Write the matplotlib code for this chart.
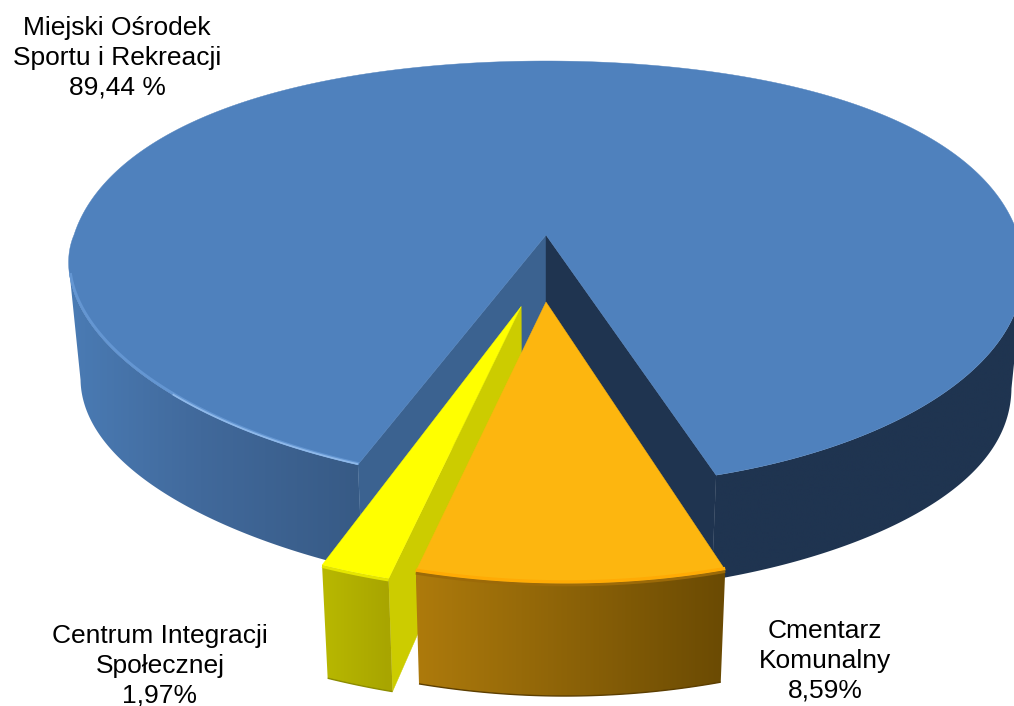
'''3D exploded pie of budget shares, drawn by hand since matplotlib has no perspective pie'''
import numpy as np
from matplotlib import pyplot as plt
from matplotlib.colors import to_rgb
from matplotlib.patches import Polygon

# data
names = ["Miejski Ośrodek\nSportu i Rekreacji", "Cmentarz\nKomunalny", "Centrum Integracji\nSpołecznej"]
shares = [89.44, 8.59, 1.97]
share_texts = ["89,44 %", "8,59%", "1,97%"]

# colours
top_colors = ["#4F81BD", "#FDB60F", "#FFFF00"]
inner_left_blue = "#3B6290"
inner_right_blue = "#1F3450"
inner_yellow = "#CCCC00"

# picture geometry
CX, CY = 546, 235
RX, RY = 472, 204
RY_BACK = 174
KX, KY = 0.15, 0.19
DEPTH = 85
TILT = 0.02
START = 18.0   # where the big slice starts, degrees from the viewer direction

layer = [1]


def next_z():
    layer[0] += 1
    return layer[0]


def project(u, v, lower=False):
    u = np.asarray(u, dtype=float)
    v = np.asarray(v, dtype=float)
    sx = 1 / (1 - KX * v)
    sy = 1 / (1 - KY * v)
    x = RX * u * sx
    # front half in perspective, back half a bit squarer
    back = np.abs(v)
    y = np.where(v >= 0, RY * v * sy, -RY_BACK * (back + 0.28 * back * (1 - back)))
    front = np.clip(v, 0, None)
    y = y + TILT * x * 1.3 * front / (front + 0.3)
    if lower:
        x = x * 0.975
        y = y + DEPTH * (sy + 0.35 * np.abs(u) ** 3)
    return CX + x, CY + y


def rim(a, b, piece=(0.0, 0.0, 1.0, 1.0), lower=False, step=0.5):
    u0, v0, ru, rv = piece
    n = max(int(abs(b - a) / step), 2)
    t = np.radians(np.linspace(a, b, n))
    return project(u0 + ru * np.sin(t), v0 + rv * np.cos(t), lower)


def side(ax, a, b, x_stops, colors, piece=(0.0, 0.0, 1.0, 1.0)):
    # outer wall, horizontal gradient clipped to its outline
    xt, yt = rim(a, b, piece)
    xb, yb = rim(a, b, piece, lower=True)
    px = np.r_[xt, xb[::-1]]
    py = np.r_[yt, yb[::-1]]
    xs = np.linspace(px.min(), px.max(), 300)
    rgb = np.array([to_rgb(c) for c in colors])
    grad = np.stack([np.interp(xs, x_stops, rgb[:, k]) for k in range(3)], axis=1)[None, :, :]
    im = ax.imshow(grad, extent=(px.min(), px.max(), py.max(), py.min()), aspect="auto",
                   interpolation="bilinear", zorder=next_z())
    clip = Polygon(np.c_[px, py], closed=True, transform=ax.transData)
    im.set_clip_path(clip)


def inner(ax, angle, color, piece=(0.0, 0.0, 1.0, 1.0)):
    u0, v0, ru, rv = piece
    t = np.radians(angle)
    ax1, ay1 = project(u0, v0)
    ax2, ay2 = project(u0, v0, lower=True)
    bx1, by1 = project(u0 + ru * np.sin(t), v0 + rv * np.cos(t))
    bx2, by2 = project(u0 + ru * np.sin(t), v0 + rv * np.cos(t), lower=True)
    ax.fill([ax1, bx1, bx2, ax2], [ay1, by1, by2, ay2], color=color, lw=0.3, zorder=next_z())


def top(ax, a, b, color, piece=(0.0, 0.0, 1.0, 1.0)):
    x, y = rim(a, b, piece)
    x0, y0 = project(piece[0], piece[1])
    ax.fill(np.r_[x0, x], np.r_[y0, y], color=color, lw=0.3, zorder=next_z())


fig = plt.figure(figsize=(10.14, 7.06), dpi=100)
ax = fig.add_axes([0, 0, 1, 1])

# slice angles come from the shares
main_span = shares[0] * 3.6
orange_span = shares[1] * 3.6
yellow_span = shares[2] * 3.6
main_end = START + main_span
orange_end = START - orange_span
yellow_end = orange_end - yellow_span

# big blue slice, walls stop at the widest point of the rim
side(ax, main_end, 279, [70, 200, 360], ["#4A7BB4", "#41699B", "#375A85"])
side(ax, START, 81, [700, 1014], [inner_right_blue, inner_right_blue])
inner(ax, main_end, inner_left_blue)
inner(ax, START, inner_right_blue)
top(ax, START, main_end, top_colors[0])
x, y = rim(282, main_end)
ax.plot(x + 1, y - 1, color="#6496D2", lw=2.0, solid_capstyle="butt", zorder=next_z())
x, y = rim(315, main_end)
ax.plot(x, y - 0.5, color="#8FB9EA", lw=1.3, solid_capstyle="butt", zorder=next_z())

# yellow piece
yellow_piece = (-0.05, 0.33, 0.98, 0.98)
inner(ax, orange_end, inner_yellow, yellow_piece)
side(ax, yellow_end, orange_end, [320, 388], ["#B9B900", "#A8A500"], yellow_piece)
top(ax, yellow_end, orange_end, top_colors[2], yellow_piece)
x, y = rim(yellow_end, orange_end, yellow_piece)
ax.plot(x, y + 1.5, color="#E6E600", lw=2.0, solid_capstyle="butt", zorder=next_z())
x, y = rim(yellow_end, orange_end, yellow_piece, lower=True)
ax.plot(x, y, color="#8C8C00", lw=1.0, solid_capstyle="butt", zorder=next_z())

# orange piece
orange_piece = (0.0, 0.309, 1.0, 0.98)
side(ax, orange_end, START, [419, 727], ["#AD7A0C", "#6A4A03"], orange_piece)
top(ax, orange_end, START, top_colors[1], orange_piece)
x, y = rim(orange_end, START, orange_piece)
ax.plot(x, y - 1.5, color="#FFAB05", lw=2.5, solid_capstyle="butt", zorder=next_z())
ax.plot(x, y + 1.5, color="#9C6A08", lw=2.0, solid_capstyle="butt", zorder=next_z())
x, y = rim(orange_end, START, orange_piece, lower=True)
ax.plot(x, y, color="#5C3E00", lw=1.0, solid_capstyle="butt", zorder=next_z())

ax.set_xlim(0, 1014)
ax.set_ylim(706, 0)
ax.axis("off")

# labels
label_pos = [(117, 58), (825, 661), (160, 666)]
for name, txt, (lx, ly) in zip(names, share_texts, label_pos):
    ax.text(lx, ly, name + "\n" + txt, ha="center", va="center", multialignment="center",
            fontsize=19, family="Liberation Sans", color="#000000", linespacing=1.3, zorder=next_z())

fig.savefig("out.png", dpi=100)
plt.close()
